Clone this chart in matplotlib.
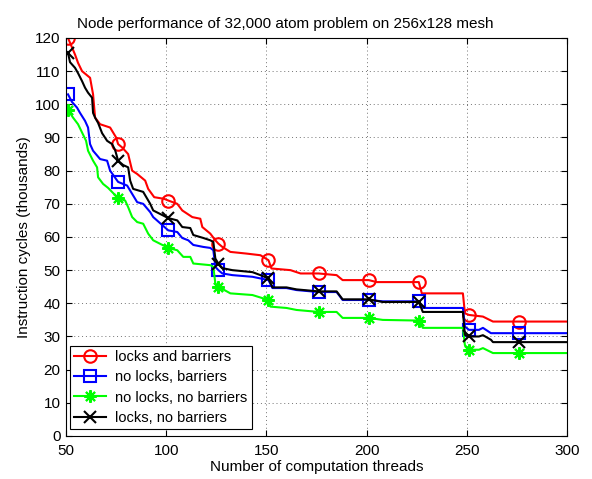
import matplotlib
matplotlib.use('Agg')
import matplotlib.pyplot as plt

plt.rcParams['font.family'] = ['Liberation Sans', 'DejaVu Sans']
plt.rcParams['font.size'] = 11

# breakpoints (threads, thousands of cycles)
red_x = [51, 54.5, 56, 58, 62, 63.5, 64.5, 67, 72, 75, 76, 78, 81, 83, 85.5, 89.5, 91, 94, 99, 101,
         105.5, 108, 113, 117, 118, 122, 124.5, 126, 128, 132, 140, 147, 151, 152.5, 162, 167, 176,
         185, 188, 201, 205, 226, 227.5, 248, 249, 251, 258, 263, 276, 300]
red_y = [120, 115, 112.5, 110, 108, 103, 96, 94, 93, 90, 88, 87, 85, 80, 79, 77, 74.5, 72, 71.5, 71,
         70, 68, 66, 65.5, 63, 61, 59, 58, 57, 55.5, 55, 54.5, 53, 50.5, 50, 49, 49,
         48.5, 47, 47, 46.4, 46.4, 43, 43, 37, 36.5, 36, 34.5, 34.5, 34.5]

blue_x = [51, 53, 55.5, 57, 59.5, 61, 62, 63.5, 67, 70.5, 72, 76, 80.5, 82, 85.5, 88.5, 92, 93.5, 101,
          105.5, 108, 111, 113.5, 118.5, 122, 123.5, 124.5, 126, 128, 133, 143, 147, 151, 153, 160,
          165, 176, 185, 188, 201, 208, 226, 228, 248, 249, 251, 256, 258, 262, 276, 300]
blue_y = [103, 100.7, 99, 97.4, 95, 93, 88, 86, 83.5, 83, 80, 76.6, 75.5, 74, 70.5, 70, 67.5, 66, 62,
          61.5, 59.7, 59, 57.6, 57, 56.7, 56, 51, 50, 49, 48.5, 48, 47.5, 47, 44.6, 44.6,
          44, 43.4, 43.4, 41, 41, 40.6, 40.6, 38.6, 38.6, 33, 32, 32, 32.6, 31, 31, 31]

green_x = [51, 53.5, 56, 58, 60, 61, 63.5, 65.5, 66, 68.5, 71, 76, 79.5, 81, 83, 85.5, 88.5, 91, 93.5,
           101, 105.5, 108.5, 112, 113.5, 122, 123.5, 124.5, 126, 132, 143, 151, 152, 160, 165, 176,
           185, 188, 201, 208, 226, 228, 248, 249, 251, 256, 258, 262, 263, 276, 300]
green_y = [98.3, 96, 94, 91.5, 89, 86, 83, 81, 78, 76, 74.8, 71.7, 71, 69, 66, 64.5, 64, 61, 59,
           56.7, 56, 54, 54, 52, 51.5, 51, 46, 45, 43, 42.5, 41, 39, 38.6, 38, 37.4,
           37.4, 35.6, 35.6, 35, 34.8, 32.6, 32.6, 27.4, 26, 26, 26.5, 25.3, 25, 25, 25]

black_x = [51, 52, 54.5, 56, 58, 59.5, 61, 63, 63.5, 64.5, 66, 68, 70.5, 73, 74.5, 76, 78.5, 81, 82,
           83.5, 88.5, 92, 93.5, 101, 105.5, 108, 112, 113.5, 118.5, 122, 123.5, 124.5, 126, 128,
           133, 143, 147, 151, 153, 160, 165, 176, 185, 188, 201, 208, 226, 228, 248, 249, 251, 256,
           258, 262, 263, 276, 300]
black_y = [115.5, 112.7, 111, 109.4, 107, 105, 103.5, 102, 97.4, 96, 94.4, 91.3, 89, 88, 86.2, 83,
           81.7, 81, 77, 74.5, 73.6, 70, 68, 65.7, 65, 63, 62.7, 60.6, 59.7, 59, 58.5, 53.5, 52,
           50.6, 50, 49.4, 48.5, 47.5, 44.8, 44.8, 44.2, 43.6, 43.6, 41.2, 41.2, 40.4, 40.4, 37.4,
           37.4, 30.5, 30, 30, 30.4, 29, 28.3, 28.3, 28.3]

marker_threads = [51, 76, 101, 126, 151, 176, 201, 226, 251, 276]

series = [
    ("locks and barriers", red_x, red_y, 'r', 'o', 9),
    ("no locks, barriers", blue_x, blue_y, 'b', 's', 8),
    ("no locks, no barriers", green_x, green_y, (0, 1, 0), (8, 2, 0), 9),
    ("locks, no barriers", black_x, black_y, 'k', 'x', 8),
]

fig = plt.figure(figsize=(5.92, 4.79), dpi=100)
ax = fig.add_axes([0.1115, 0.0898, 0.8465, 0.8309])

for label, xs, ys, col, mk, ms in series:
    idx = [xs.index(t) for t in marker_threads]
    ax.plot(xs, ys, color=col, lw=1.5, marker=mk, markevery=idx, ms=ms,
            mfc='none', mec=col, mew=1.5, label=label)

ax.set_xlim(50, 300)
ax.set_ylim(0, 120)
ax.set_xticks(range(50, 301, 50))
ax.set_yticks(range(0, 121, 10))
ax.tick_params(direction='in', top=True, right=True, length=4, width=0.8, labelsize=11)
ax.tick_params(axis='x', pad=6)
ax.tick_params(axis='y', pad=4)
ax.grid(True, color='0.45', linestyle=(0, (1, 3)), lw=0.7)
for s in ax.spines.values():
    s.set_linewidth(0.8)

ax.set_title("Node performance of 32,000 atom problem on 256x128 mesh", fontsize=11, pad=7, x=0.437)
ax.set_xlabel("Number of computation threads", labelpad=1)
ax.set_ylabel("Instruction cycles (thousands)", labelpad=3)

leg = ax.legend(loc='lower left', bbox_to_anchor=(0.002, 0.01), fancybox=False, edgecolor='k',
                framealpha=1, handlelength=2.2, labelspacing=0.42, borderpad=0.3,
                handletextpad=0.6, borderaxespad=0.2, fontsize=10.5)
leg.get_frame().set_linewidth(0.8)

fig.savefig("out.png", dpi=100)
